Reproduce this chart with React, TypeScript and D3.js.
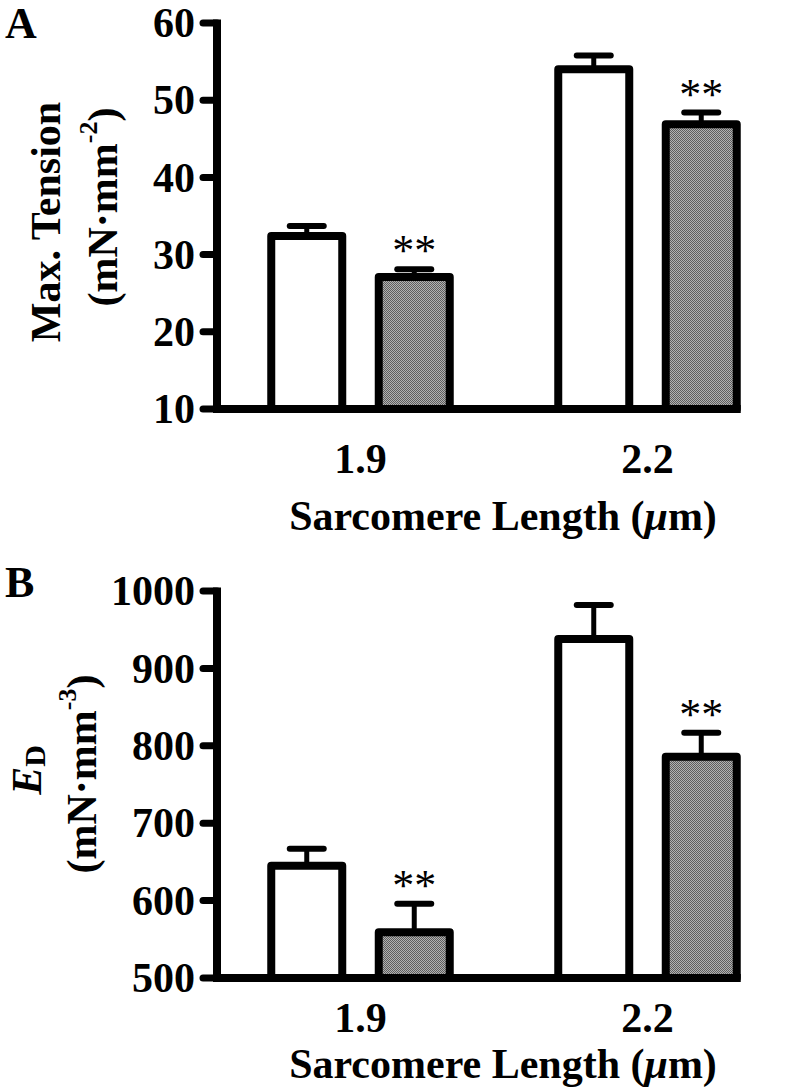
import React, { useEffect, useRef } from 'react';
import * as d3 from 'd3';

// data
const categories = ['1.9', '2.2'];
const series = ['control', 'treated'];

const tensionControl = [32.4, 54.0];
const tensionControlErr = [1.3, 1.8];
const tensionTreated = [27.1, 46.9];
const tensionTreatedErr = [1.0, 1.5];
const tensionTicks = [10, 20, 30, 40, 50, 60];

const edControl = [645, 938];
const edControlErr = [22, 44];
const edTreated = [559, 786];
const edTreatedErr = [37, 31];
const edTicks = [500, 600, 700, 800, 900, 1000];

const treatedMarks = ['**', '**'];

const FONT = '"Liberation Serif", "Times New Roman", serif';
const W = 797;
const H = 1091;

type PanelCfg = {
  letter: string;
  letterY: number;
  control: number[];
  controlErr: number[];
  treated: number[];
  treatedErr: number[];
  ticks: number[];
  top: number;
  base: number;
  tickLabelY: number;
  titleY: number;
  yTitle: (g: any) => void;
};

function drawPanel(svg: any, cfg: PanelCfg) {
  const axisX = 217;
  const barW = 71;
  const barStroke = 8;

  const y = d3.scaleLinear()
    .domain([cfg.ticks[0], cfg.ticks[cfg.ticks.length - 1]])
    .range([cfg.base, cfg.top]);

  const x = d3.scaleBand().domain(categories).range([axisX, axisX + 574]);
  const xs = d3.scaleBand().domain(series).range([36, 251]);

  const g = svg.append('g');

  const rows = categories.flatMap((c, i) => [
    { cat: c, s: 'control', v: cfg.control[i], e: cfg.controlErr[i], mark: '' },
    { cat: c, s: 'treated', v: cfg.treated[i], e: cfg.treatedErr[i], mark: treatedMarks[i] },
  ]);
  const cx = (d: any) => (x(d.cat) as number) + (xs(d.s) as number) + xs.bandwidth() / 2;

  // error bars (upper only)
  g.selectAll('line.stem').data(rows).enter().append('line')
    .attr('x1', cx).attr('x2', cx)
    .attr('y1', (d: any) => y(d.v)).attr('y2', (d: any) => y(d.v + d.e))
    .attr('stroke', '#000').attr('stroke-width', 5);
  g.selectAll('line.cap').data(rows).enter().append('line')
    .attr('x1', (d: any) => cx(d) - 17).attr('x2', (d: any) => cx(d) + 17)
    .attr('y1', (d: any) => y(d.v + d.e)).attr('y2', (d: any) => y(d.v + d.e))
    .attr('stroke', '#000').attr('stroke-width', 6).attr('stroke-linecap', 'round');

  // bars
  g.selectAll('rect.bar').data(rows).enter().append('rect')
    .attr('x', (d: any) => cx(d) - barW / 2)
    .attr('width', barW)
    .attr('y', (d: any) => y(d.v))
    .attr('height', (d: any) => cfg.base - y(d.v))
    .attr('fill', (d: any) => (d.s === 'control' ? '#fff' : 'url(#dither)'))
    .attr('stroke', '#000')
    .attr('stroke-width', barStroke)
    .attr('stroke-linejoin', 'round');

  // significance
  g.selectAll('text.sig').data(rows.filter((d) => d.mark)).enter().append('text')
    .attr('x', cx)
    .attr('y', (d: any) => y(d.v + d.e) - 4)
    .attr('text-anchor', 'middle')
    .style('font-family', FONT)
    .style('font-size', '44px')
    .text((d: any) => d.mark);

  // axes
  const lastRight = cx(rows[rows.length - 1]) + barW / 2 + barStroke / 2;
  g.append('line')
    .attr('x1', axisX).attr('x2', axisX)
    .attr('y1', cfg.top - 3.5).attr('y2', cfg.base)
    .attr('stroke', '#000').attr('stroke-width', 8);
  g.append('line')
    .attr('x1', axisX - 4).attr('x2', lastRight)
    .attr('y1', cfg.base).attr('y2', cfg.base)
    .attr('stroke', '#000').attr('stroke-width', 8);

  g.selectAll('line.tick').data(cfg.ticks).enter().append('line')
    .attr('x1', axisX - 14).attr('x2', axisX)
    .attr('y1', (d: number) => y(d)).attr('y2', (d: number) => y(d))
    .attr('stroke', '#000').attr('stroke-width', 7).attr('stroke-linecap', 'round');

  g.selectAll('text.ytick').data(cfg.ticks).enter().append('text')
    .attr('x', 195)
    .attr('y', (d: number) => y(d))
    .attr('dy', '0.34em')
    .attr('text-anchor', 'end')
    .style('font-family', FONT).style('font-weight', 'bold').style('font-size', '42px')
    .text((d: number) => d);

  g.selectAll('text.xtick').data(categories).enter().append('text')
    .attr('x', (d: string) => (x(d) as number) + x.bandwidth() / 2)
    .attr('y', cfg.tickLabelY)
    .attr('text-anchor', 'middle')
    .style('font-family', FONT).style('font-weight', 'bold').style('font-size', '42px')
    .text((d: string) => d);

  const xt = g.append('text')
    .attr('x', 503).attr('y', cfg.titleY)
    .attr('text-anchor', 'middle')
    .style('font-family', FONT).style('font-weight', 'bold').style('font-size', '42px');
  xt.append('tspan').text('Sarcomere Length (');
  xt.append('tspan').style('font-style', 'italic').text('μ');
  xt.append('tspan').text('m)');

  g.append('text')
    .attr('x', 5).attr('y', cfg.letterY)
    .style('font-family', FONT).style('font-weight', 'bold').style('font-size', '44px')
    .text(cfg.letter);

  cfg.yTitle(g);
}

const App = () => {
  const svgRef = useRef<SVGSVGElement>(null);

  useEffect(() => {
    const svg = d3.select(svgRef.current);
    svg.selectAll('*').remove();

    const defs = svg.append('defs');
    const pat = defs.append('pattern')
      .attr('id', 'dither').attr('patternUnits', 'userSpaceOnUse')
      .attr('width', 2).attr('height', 2);
    pat.append('rect').attr('width', 2).attr('height', 2).attr('fill', '#b2b2b2');
    pat.append('rect').attr('width', 1).attr('height', 1).attr('fill', '#5e5e5e');
    pat.append('rect').attr('x', 1).attr('y', 1).attr('width', 1).attr('height', 1).attr('fill', '#5e5e5e');

    const titleText = (g: any, x: number, cy: number) =>
      g.append('text')
        .attr('transform', `translate(${x},${cy}) rotate(-90)`)
        .attr('text-anchor', 'middle')
        .style('font-family', FONT).style('font-weight', 'bold').style('font-size', '42px');

    drawPanel(svg, {
      letter: 'A', letterY: 38,
      control: tensionControl, controlErr: tensionControlErr,
      treated: tensionTreated, treatedErr: tensionTreatedErr,
      ticks: tensionTicks, top: 23, base: 409,
      tickLabelY: 473, titleY: 530,
      yTitle: (g) => {
        titleText(g, 60, 222).text('Max. Tension');
        const t = titleText(g, 117, 207);
        t.append('tspan').text('(mN·mm');
        t.append('tspan').attr('dy', -20).style('font-size', '26px').text('-2');
        t.append('tspan').attr('dy', 20).text(')');
      },
    });

    drawPanel(svg, {
      letter: 'B', letterY: 597,
      control: edControl, controlErr: edControlErr,
      treated: edTreated, treatedErr: edTreatedErr,
      ticks: edTicks, top: 591, base: 978,
      tickLabelY: 1032, titleY: 1078,
      yTitle: (g) => {
        const e = titleText(g, 41, 770);
        e.append('tspan').style('font-style', 'italic').style('font-size', '42px').text('E');
        e.append('tspan').attr('dy', 4).style('font-size', '30px').text('D');
        const t = titleText(g, 96, 774);
        t.append('tspan').text('(mN·mm');
        t.append('tspan').attr('dy', -20).style('font-size', '26px').text('-3');
        t.append('tspan').attr('dy', 20).text(')');
      },
    });
  }, []);

  return (
    <svg
      ref={svgRef}
      width={W}
      height={H}
      style={{ position: 'absolute', left: 0, top: 0, background: '#fff' }}
    />
  );
};

export default App;
